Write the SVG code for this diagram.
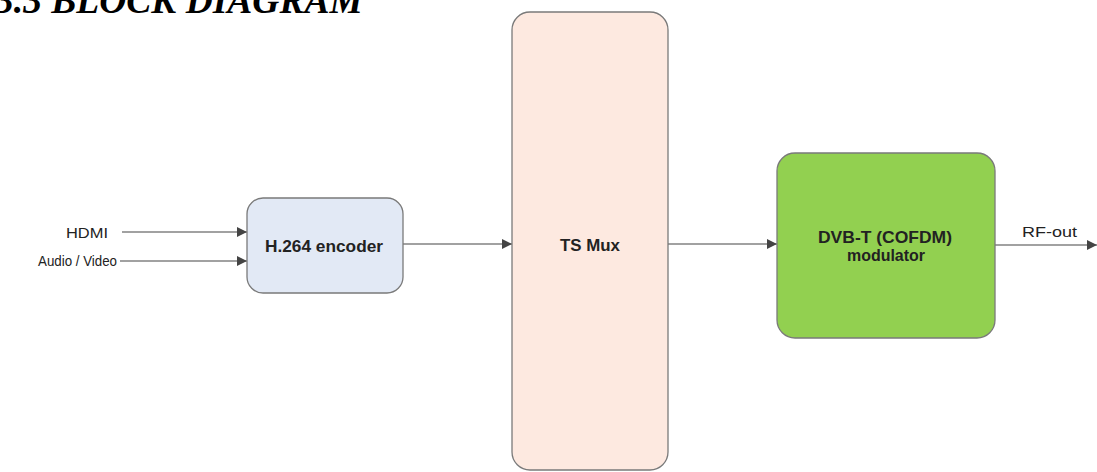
<svg xmlns="http://www.w3.org/2000/svg" width="1097" height="472" viewBox="0 0 1097 472">
<style>
.t{font-family:"Liberation Sans",Arial,sans-serif;font-size:15px;fill:#222}
.b{font-family:"Liberation Sans",Arial,sans-serif;font-size:17px;font-weight:bold;fill:#222}
.box{stroke:#7a7a7a;stroke-width:1.3}
.c{stroke:#444;stroke-width:1.2;fill:none;marker-end:url(#ah)}
</style>
<defs>
<marker id="ah" viewBox="0 0 10 10" refX="10" refY="5" markerWidth="10" markerHeight="10" markerUnits="userSpaceOnUse" orient="auto">
<path d="M0,0 L10,5 L0,10 z" fill="#444"/>
</marker>
</defs>
<rect width="1097" height="472" fill="#fff"/>
<text x="-5" y="13" font-family="'Liberation Serif','Times New Roman',serif" font-size="37.5" font-weight="bold" font-style="italic" fill="#000">3.3 BLOCK DIAGRAM</text>
<g id="connectors">
<line class="c" x1="122" y1="232" x2="247" y2="232"/>
<line class="c" x1="120" y1="261" x2="247" y2="261"/>
<line class="c" x1="403" y1="244" x2="512" y2="244"/>
<line class="c" x1="668" y1="244" x2="777" y2="244"/>
<line class="c" x1="995" y1="245" x2="1097" y2="245"/>
</g>
<g id="inputs">
<text class="t" x="66" y="238" textLength="42" lengthAdjust="spacingAndGlyphs">HDMI</text>
<text class="t" x="38" y="266" textLength="79" lengthAdjust="spacingAndGlyphs">Audio / Video</text>
</g>
<g id="encoder">
<rect class="box" x="247" y="198" width="156" height="95" rx="16" fill="#e2e9f5"/>
<text class="b" x="265" y="252" textLength="118" lengthAdjust="spacingAndGlyphs">H.264 encoder</text>
</g>
<g id="tsmux">
<rect class="box" x="512" y="12" width="156" height="458" rx="18" fill="#fde9e0"/>
<text class="b" x="560" y="251" textLength="60" lengthAdjust="spacingAndGlyphs">TS Mux</text>
</g>
<g id="modulator">
<rect class="box" x="777" y="153" width="218" height="185" rx="18" fill="#92d050"/>
<text class="b" x="818" y="243" font-size="16" textLength="134" lengthAdjust="spacingAndGlyphs">DVB-T (COFDM)</text>
<text class="b" x="847" y="261" font-size="16" textLength="78" lengthAdjust="spacingAndGlyphs">modulator</text>
</g>
<g id="rfout">
<text class="t" x="1022" y="237" font-size="17" textLength="55" lengthAdjust="spacingAndGlyphs">RF-out</text>
</g>
</svg>
